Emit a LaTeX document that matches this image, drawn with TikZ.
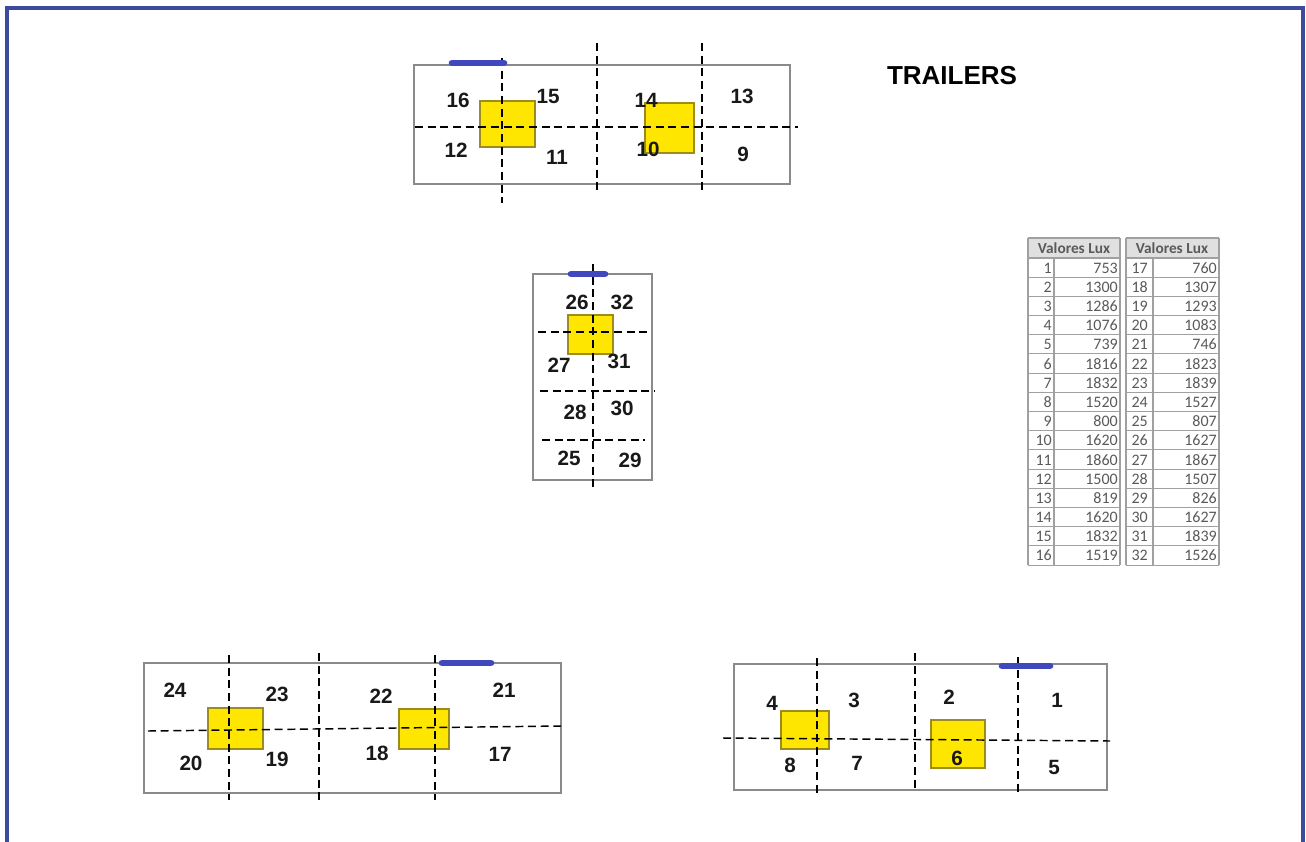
\documentclass[tikz,border=0pt]{standalone}
\usepackage{fontspec}
\setmainfont{Liberation Sans}
\newfontfamily\tblfont{Carlito}
\definecolor{frameblue}{HTML}{3D4B9C}
\definecolor{barblue}{HTML}{4148BE}
\definecolor{boxgray}{HTML}{8A8A8A}
\definecolor{lampyellow}{HTML}{FFE600}
\definecolor{lampedge}{HTML}{9C8C1E}
\definecolor{tblgray}{HTML}{A0A0A0}
\definecolor{tbltext}{HTML}{5A5A5A}
\definecolor{hdrfill}{HTML}{E0E0E0}
\begin{document}
\begin{tikzpicture}[x=0.75pt,y=-0.75pt,
  trailer/.style={draw=boxgray,line width=1.4pt},
  gridline/.style={draw=black,line width=1.1pt,dash pattern=on 6pt off 3.5pt},
  lamp/.style={draw=lampedge,fill=lampyellow,line width=0.9pt},
  bar/.style={draw=barblue,line width=5pt,line cap=round},
  num/.style={font=\bfseries\fontsize{15.5}{15.5}\selectfont,inner sep=0pt,text=black!90},
  tbl/.style={font=\tblfont\fontsize{12}{12}\selectfont,inner sep=0pt,text=tbltext,anchor=base east},
  hdr/.style={font=\tblfont\bfseries\fontsize{11.5}{11.5}\selectfont,inner sep=0pt,text=tbltext},
  tline/.style={draw=tblgray,line width=0.8pt}]
\useasboundingbox (0,0) rectangle (1306,842);
\fill[white] (0,0) rectangle (1306,842);
% frame
\draw[frameblue,line width=3pt] (7,842) -- (7,8) -- (1303,8) -- (1303,842);

% title
\node[font=\bfseries\fontsize{19.5}{19.5}\selectfont,inner sep=0pt] (title) at (952,76) {TRAILERS};

% ---------------- Trailer 1 (top)
\draw[trailer] (414,65) rectangle (790,184);
\draw[lamp] (480,101) rectangle (535,147);
\draw[lamp] (645,103) rectangle (694,153);
\draw[gridline] (502,58) -- (502,203);
\draw[gridline] (597,43) -- (597,190);
\draw[gridline] (702,43) -- (702,190);
\draw[gridline] (415,127) -- (798,127);
\draw[bar] (452,63) -- (504,63);
\node[num] (n16) at (458,100) {16};
\node[num] (n15) at (548,96) {15};
\node[num] (n14) at (646,100) {14};
\node[num] (n13) at (742,96) {13};
\node[num] (n12) at (456,150) {12};
\node[num] (n11) at (557,157) {11};
\node[num] (n10) at (648,149) {10};
\node[num] (n9) at (743,154) {9};

% ---------------- Trailer 2 (vertical)
\draw[trailer] (533,274) rectangle (652,480);
\draw[lamp] (568,315) rectangle (613,354);
\draw[gridline] (593,264) -- (593,490);
\draw[gridline] (538,332) -- (650,332);
\draw[gridline] (540,391) -- (655,391);
\draw[gridline] (542,440) -- (645,440);
\draw[bar] (571,274) -- (605,274);
\node[num] (n26) at (577,302) {26};
\node[num] (n32) at (622,302) {32};
\node[num] (n27) at (559,365) {27};
\node[num] (n31) at (619,361) {31};
\node[num] (n28) at (575,412) {28};
\node[num] (n30) at (622,408) {30};
\node[num] (n25) at (569,458) {25};
\node[num] (n29) at (630,460) {29};

% ---------------- Trailer 3 (bottom left)
\draw[trailer] (144,663) rectangle (561,793);
\draw[lamp] (208,708) rectangle (263,749);
\draw[lamp] (399,709) rectangle (449,749);
\draw[gridline] (229,655) -- (229,800);
\draw[gridline] (319,653) -- (319,800);
\draw[gridline] (435,655) -- (435,800);
\draw[gridline] (148,731) -- (561,726);
\draw[bar] (442,663) -- (491,663);
\node[num] (n24) at (175,690) {24};
\node[num] (n23) at (277,694) {23};
\node[num] (n22) at (381,696) {22};
\node[num] (n21) at (504,690) {21};
\node[num] (n20) at (191,763) {20};
\node[num] (n19) at (277,759) {19};
\node[num] (n18) at (377,753) {18};
\node[num] (n17) at (500,754) {17};

% ---------------- Trailer 4 (bottom right)
\draw[trailer] (734,664) rectangle (1107,790);
\draw[lamp] (781,711) rectangle (829,749);
\draw[lamp] (931,720) rectangle (985,768);
\draw[gridline] (817,658) -- (817,795);
\draw[gridline] (915,653) -- (915,790);
\draw[gridline] (1018,657) -- (1018,795);
\draw[gridline] (723,738) -- (1110,741);
\draw[bar] (1002,666) -- (1050,666);
\node[num] (n4) at (772,703) {4};
\node[num] (n3) at (854,700) {3};
\node[num] (n2) at (949,697) {2};
\node[num] (n1) at (1057,700) {1};
\node[num] (n8) at (790,765) {8};
\node[num] (n7) at (857,763) {7};
\node[num] (n6) at (957,758) {6};
\node[num] (n5) at (1054,767) {5};

% ---------------- Tables
\fill[hdrfill] (1028,238) rectangle (1120,258);
\fill[hdrfill] (1126,238) rectangle (1219,258);
\foreach \k in {0,...,16} {
  \draw[tline] (1028,258+\k*19.19) -- (1120,258+\k*19.19);
  \draw[tline] (1126,258+\k*19.19) -- (1219,258+\k*19.19);
}
\draw[tline] (1028,238) -- (1120,238);
\draw[tline] (1126,238) -- (1219,238);
\foreach \xx in {1028,1120,1126,1219} \draw[tline] (\xx,238) -- (\xx,565);
\foreach \xx in {1054,1153} \draw[tline] (\xx,258) -- (\xx,565);
\node[hdr] (hdrA) at (1074,248) {Valores Lux};
\node[hdr] (hdrB) at (1172,248) {Valores Lux};
\foreach \na/\va/\nb/\vb [count=\k] in {1/753/17/760,2/1300/18/1307,3/1286/19/1293,4/1076/20/1083,5/739/21/746,6/1816/22/1823,7/1832/23/1839,8/1520/24/1527,9/800/25/807,10/1620/26/1627,11/1860/27/1867,12/1500/28/1507,13/819/29/826,14/1620/30/1627,15/1832/31/1839,16/1519/32/1526} {
  \pgfmathsetmacro\yy{258+(\k-0.5)*19.19+5.5}
  \node[tbl] (ia\na) at (1052,\yy) {\na};
  \node[tbl] (va\na) at (1118,\yy) {\va};
  \node[tbl] (ib\nb) at (1148,\yy) {\nb};
  \node[tbl] (vb\nb) at (1217,\yy) {\vb};
}
\end{tikzpicture}
\end{document}
